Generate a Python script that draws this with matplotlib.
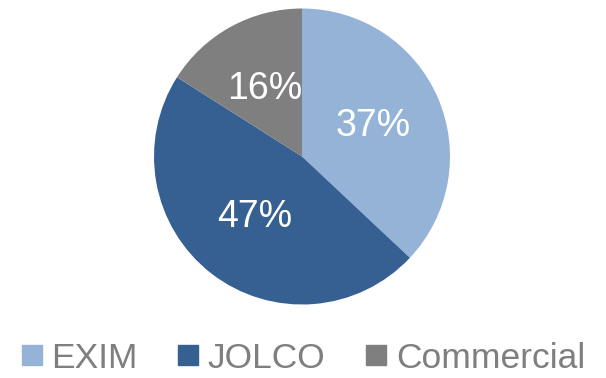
import matplotlib.pyplot as plt
from matplotlib.lines import Line2D

plt.rcParams['font.family'] = ['Liberation Sans', 'DejaVu Sans']

labels = ['EXIM', 'JOLCO', 'Commercial']
shares = [37, 47, 16]
colors = ['#95B3D7', '#366092', '#7F7F7F']

fig = plt.figure(figsize=(6.06, 3.78), dpi=100)
ax = fig.add_axes([154 / 606, 73 / 378, 296 / 606, 297 / 378])

wedges, texts, autotexts = ax.pie(
    shares, colors=colors, startangle=90, counterclock=False,
    autopct='%d%%', pctdistance=0.52, radius=1,
    textprops=dict(color='white', fontsize=27))
ax.set_xlim(-1, 1)
ax.set_ylim(-1, 1)
ax.set_aspect('equal')

# legend row under the pie, square swatches
handles = [Line2D([], [], marker='s', linestyle='none', markersize=14,
                  markerfacecolor=c, markeredgecolor=c) for c in colors]
leg = fig.legend(handles, labels, loc='center left', bbox_to_anchor=(22 / 606, 1 - 358 / 378),
                 ncol=3, frameon=False, fontsize=25.5, handlelength=0.55,
                 handletextpad=0.28, columnspacing=1.15, borderaxespad=0, borderpad=0)
for t in leg.get_texts():
    t.set_color('#7F7F7F')

fig.savefig('out.png', dpi=100)
